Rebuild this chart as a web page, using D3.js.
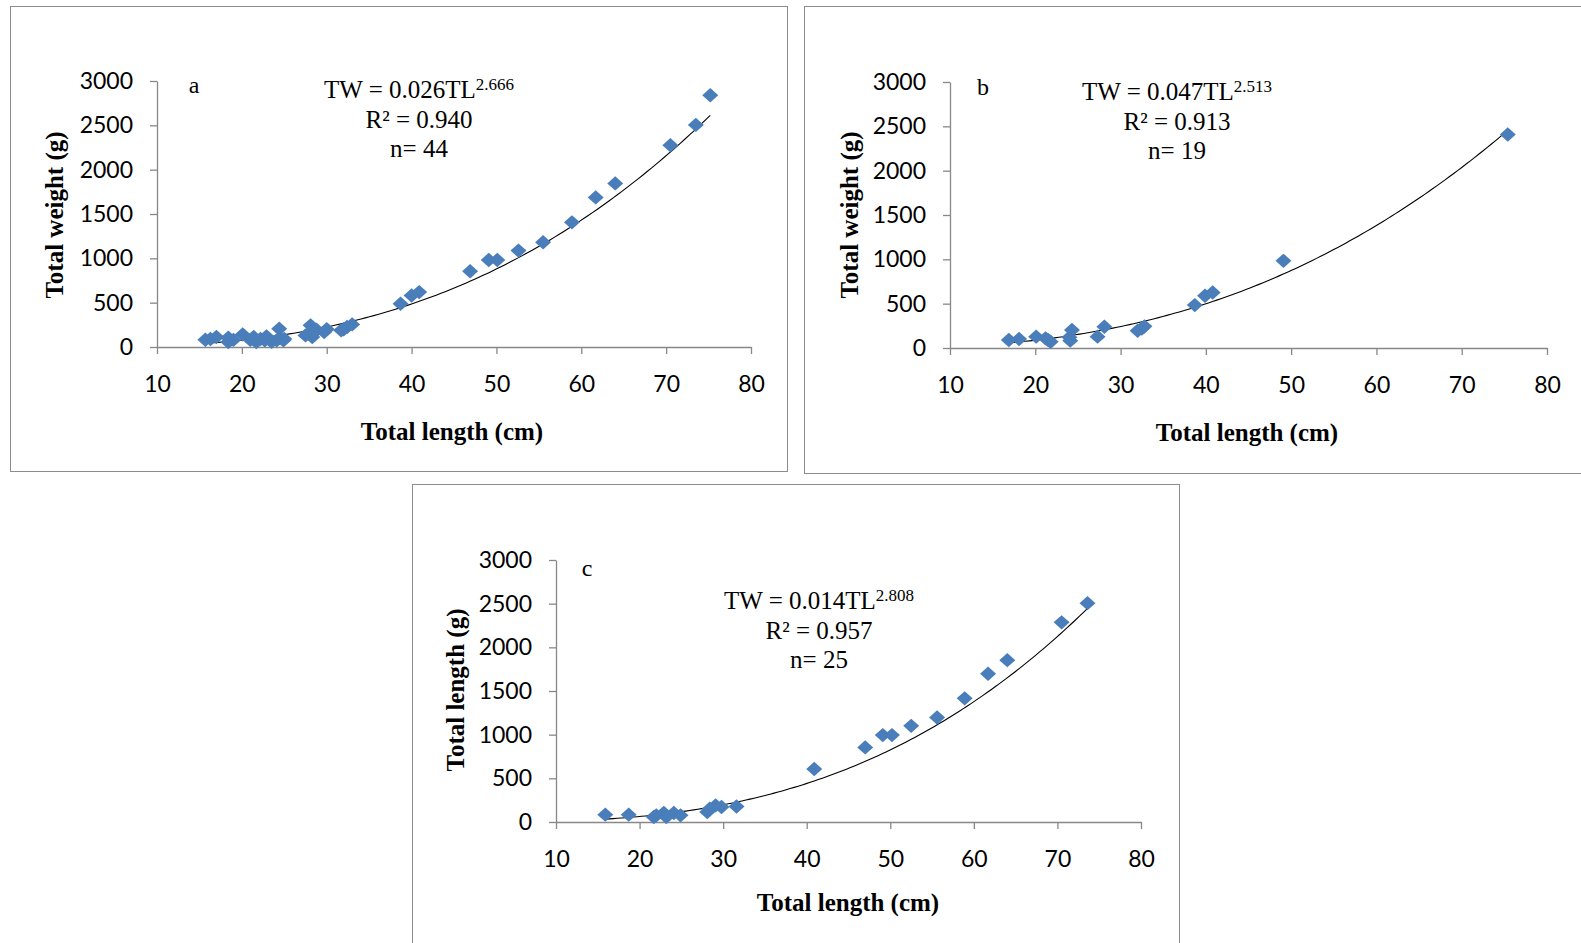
<!DOCTYPE html>
<html><head><meta charset="utf-8">
<script src="https://cdn.jsdelivr.net/npm/d3@7"></script>
<style>
html,body{margin:0;padding:0;background:#fff;}
svg{display:block;}
text{font-family:"Liberation Serif","Times New Roman",serif;fill:#000;}
text.tk{font-family:Lato,"Open Sans",sans-serif;}
</style></head>
<body>
<svg id="chart" width="1581" height="943"></svg>
<script>
// ---- data ----
const xTicks = [10, 20, 30, 40, 50, 60, 70, 80];
const yTicks = [0, 500, 1000, 1500, 2000, 2500, 3000];

const lengthA = [15.7,16.3,17.0,18.4,18.4,19.0,20.1,21.0,21.4,21.7,22.2,22.7,22.9,23.5,24.1,24.4,24.5,24.9,25.0,27.5,27.9,28.1,28.3,28.5,28.8,29.7,30.0,31.7,32.0,32.4,33.0,38.7,40.0,40.9,46.9,49.1,50.1,52.6,55.5,58.9,61.7,64.0,70.5,73.5,75.2];
const weightA = [82,90,112,105,56,80,142,80,112,56,90,75,120,60,75,206,100,75,90,131,150,244,112,160,195,169,200,188,200,225,255,487,581,619,855,982,982,1087,1181,1406,1687,1845,2276,2505,2839];

const lengthB = [16.9,18.1,20.1,21.2,21.5,21.8,24.0,24.1,24.3,27.3,28.1,32.0,32.5,32.8,38.7,39.9,40.8,49.1,75.4];
const weightB = [90,101,128,109,90,71,120,83,203,128,240,195,220,244,484,589,626,983,2408];

const lengthC = [15.9,18.7,21.7,22.0,22.9,23.0,23.2,24.1,24.9,28.1,28.4,29.1,29.8,31.6,40.9,47.0,49.1,50.2,52.5,55.6,58.9,61.7,64.0,70.5,73.6];
const weightC = [84,84,57,76,103,90,57,103,76,114,152,190,171,178,607,854,995,995,1101,1196,1416,1697,1853,2286,2506];

const panelLabels = ["a", "b", "c"];
const coefA = [0.026, 0.047, 0.014];   // TW = a * TL^b
const expB = [2.666, 2.513, 2.808];
const coefText = ["0.026", "0.047", "0.014"];
const expText = ["2.666", "2.513", "2.808"];
const r2Text = ["0.940", "0.913", "0.957"];
const nText = ["44", "19", "25"];
const xTitles = ["Total length (cm)", "Total length (cm)", "Total length (cm)"];
const yTitles = ["Total weight (g)", "Total weight (g)", "Total length (g)"];

// ---- layout ----
const panels = [
  {L: lengthA, W: weightA, x0: 157, x1: 751, yTop: 81, yBot: 347,
   box: [10, 6, 777, 465], lab: [194, 93], eq: [419, 98], xt: [452, 440], yt: [54, 215]},
  {L: lengthB, W: weightB, x0: 950, x1: 1547, yTop: 82, yBot: 348,
   box: [804, 6, 800, 467], lab: [983, 95], eq: [1177, 100], xt: [1247, 441], yt: [849, 215]},
  {L: lengthC, W: weightC, x0: 556, x1: 1141, yTop: 560, yBot: 822,
   box: [412, 484, 767, 480], lab: [587, 576], eq: [819, 609], xt: [848, 911], yt: [455, 690]}
];

const svg = d3.select("#chart");
const diamond = "M0,-7.2L8,0L0,7.2L-8,0Z";
const fmt = d3.format("d");

panels.forEach((p, i) => {
  const g = svg.append("g");
  g.append("rect").attr("x", p.box[0] + 0.5).attr("y", p.box[1] + 0.5)
    .attr("width", p.box[2]).attr("height", p.box[3])
    .attr("fill", "none").attr("stroke", "#8c8c8c").attr("stroke-width", 1);

  const x = d3.scaleLinear().domain([10, 80]).range([p.x0, p.x1]);
  const y = d3.scaleLinear().domain([0, 3000]).range([p.yBot, p.yTop]);

  const xAxis = g.append("g").attr("transform", `translate(0,${p.yBot})`)
    .call(d3.axisBottom(x).tickValues(xTicks).tickFormat(fmt).tickSize(7).tickSizeOuter(0).tickPadding(22));
  const yAxis = g.append("g").attr("transform", `translate(${p.x0},0)`)
    .call(d3.axisLeft(y).tickValues(yTicks).tickFormat(fmt).tickSize(7).tickSizeOuter(0).tickPadding(17));
  [xAxis, yAxis].forEach(a => {
    a.select(".domain").attr("stroke", "#888").attr("stroke-width", 1.3);
    a.selectAll(".tick line").attr("stroke", "#888").attr("stroke-width", 1.3);
    a.selectAll(".tick text").attr("class", "tk")
      .attr("font-size", 23).attr("fill", "#111");
  });

  // trend line from displayed equation
  const lo = d3.min(p.L), hi = d3.max(p.L);
  const xs = d3.range(lo, hi + 0.001, (hi - lo) / 120);
  const line = d3.line().x(d => x(d)).y(d => y(coefA[i] * Math.pow(d, expB[i])));
  g.append("path").datum(xs).attr("d", line).attr("fill", "none")
    .attr("stroke", "#000").attr("stroke-width", 1.1);

  g.selectAll("path.pt").data(p.L.map((v, k) => [v, p.W[k]])).enter()
    .append("path").attr("class", "pt").attr("d", diamond)
    .attr("transform", d => `translate(${x(d[0])},${y(d[1])})`)
    .attr("fill", "#4a7ebb");

  // panel letter
  g.append("text").attr("x", p.lab[0]).attr("y", p.lab[1]).attr("text-anchor", "middle")
    .attr("font-size", 24).text(panelLabels[i]);

  // equation
  const eq = g.append("text").attr("x", p.eq[0]).attr("y", p.eq[1]).attr("text-anchor", "middle")
    .attr("font-size", 25);
  eq.append("tspan").text("TW = " + coefText[i] + "TL");
  eq.append("tspan").attr("font-size", 17).attr("dy", -8).text(expText[i]);
  g.append("text").attr("x", p.eq[0]).attr("y", p.eq[1] + 30).attr("text-anchor", "middle")
    .attr("font-size", 25).text("R² = " + r2Text[i]);
  g.append("text").attr("x", p.eq[0]).attr("y", p.eq[1] + 59).attr("text-anchor", "middle")
    .attr("font-size", 25).text("n= " + nText[i]);

  // axis titles
  g.append("text").attr("x", p.xt[0]).attr("y", p.xt[1]).attr("text-anchor", "middle")
    .attr("font-size", 25).attr("font-weight", "bold").text(xTitles[i]);
  g.append("text").attr("transform", `translate(${p.yt[0]},${p.yt[1]}) rotate(-90)`)
    .attr("text-anchor", "middle").attr("dominant-baseline", "central")
    .attr("font-size", 25).attr("font-weight", "bold").text(yTitles[i]);
});
</script>
</body></html>
